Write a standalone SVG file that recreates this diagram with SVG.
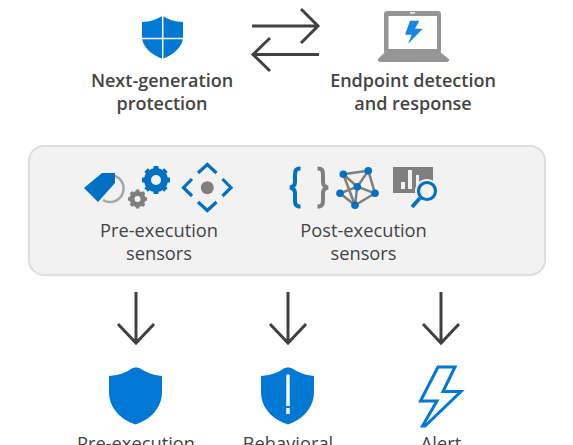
<svg xmlns="http://www.w3.org/2000/svg" width="573" height="445" viewBox="0 0 573 445">
<style>
.t{font-family:"Open Sans","Noto Sans","Liberation Sans",sans-serif;font-size:18.300px;fill:#444;text-anchor:middle}
.b{font-weight:600;font-size:18px}
.arr{fill:none;stroke:#404040;stroke-width:3}
.blue{fill:#0078d4}
.dk{fill:#0070c4}
.bl{fill:none;stroke:#0070c4}
.gr{fill:#7f7f7f}
.lap{fill:#959595}
</style>
<rect width="573" height="445" fill="#fff"/>
<g id="connectors">
<path class="arr" d="M252 26H318M301 9L318 26L301 43"/>
<path class="arr" d="M319 54.500H254M270 38L253 54.500L270 71"/>
<path class="arr" d="M136 292V343M118 324L136 343L154 324"/>
<path class="arr" d="M288 292V343M270 324L288 343L306 324"/>
<path class="arr" d="M441 292V343M423 324L441 343L459 324"/>
</g>
<g id="ngp">
<path class="blue" d="M142 22C150 22 157 19 162.500 16C168 19 175 22 183 22V37C183 47 173 55 162.500 59C152 55 142 47 142 37Z"/>
<path d="M162.700 15V60M141 38.500H184" stroke="#fff" stroke-width="1.500" fill="none"/>
<text class="t b" x="162" y="87">Next-generation</text>
<text class="t b" x="162" y="110">protection</text>
</g>
<g id="edr">
<rect x="384" y="11" width="57" height="43" rx="3" class="lap"/>
<rect x="388.500" y="16" width="48.500" height="33" fill="#fff"/>
<rect x="410" y="12.200" width="5" height="1.300" fill="#fff"/>
<path d="M385 52H440L449 59V60.500L447.500 62H379.500L378 60.500V59Z" class="lap"/>
<path fill="#1a86e0" d="M410 20.700H419.300L415 28.700H422.700L408 44L411.700 34.700H405Z"/>
<text class="t b" x="413" y="87">Endpoint detection</text>
<text class="t b" x="413" y="110">and response</text>
</g>
<g id="sensors">
<rect x="29" y="146" width="516" height="129" rx="15" fill="#f2f2f2" stroke="#ddd" stroke-width="2"/>
</g>
<g id="pre">
<path d="M110 175A13.500 13.500 0 1 1 103 200" fill="none" stroke="#a6a6a6" stroke-width="2.500"/>
<path class="dk" d="M102 173H115V183L98 202L84 188Z"/>
<g transform="translate(137.500 199)">
<circle r="6" fill="none" stroke="#7f7f7f" stroke-width="4"/>
<path d="M0-9.500V9.500M-9.500 0H9.500M-6.700-6.700L6.700 6.700M-6.700 6.700L6.700-6.700" stroke="#7f7f7f" stroke-width="3.600"/>
<circle r="3" fill="#f2f2f2"/>
</g>
<g transform="translate(156 180)">
<circle r="8.500" fill="none" stroke="#0070c4" stroke-width="7"/>
<path d="M0-14V14M-14 0H14M-9.900-9.900L9.900 9.900M-9.900 9.900L9.900-9.900" stroke="#0070c4" stroke-width="5"/>
<circle r="5" fill="#f2f2f2"/>
</g>
<circle cx="207.300" cy="187.700" r="6.500" class="gr"/>
<path class="bl" stroke-width="3.200" d="M198 173L207.300 164.500L216.500 173M198 202L207.300 210.500L216.500 202M192 179L183.500 187.700L192 196M222.500 179L231 187.700L222.500 196"/>
<text class="t" x="159" y="237">Pre-execution</text>
<text class="t" x="159" y="260">sensors</text>
</g>
<g id="post">
<path fill="none" stroke="#0070c4" stroke-width="4" d="M300.500 168.500C295 168.500 295 171 295 177V182C295 185 293 187 290 187.500C293 188 295 190 295 193V198C295 204 295 206.500 300.500 206.500"/>
<path fill="none" stroke="#7f7f7f" stroke-width="4" d="M317.500 168.500C323 168.500 323 171 323 177V182C323 185 325 187 328 187.500C325 188 323 190 323 193V198C323 204 323 206.500 317.500 206.500"/>
<path fill="none" stroke="#7f7f7f" stroke-width="2.500" d="M343.300 174.300L368.300 170.700L375 193.300L355 205.300L340 193.300L357.300 186.700L368.300 170.700M357.300 186.700L375 193.300M357.300 186.700L355 205.300M343.300 174.300L357.300 186.700M343.300 174.300L355 205.300"/>
<g class="dk">
<circle cx="343.300" cy="174.300" r="3.800"/><circle cx="368.300" cy="170.700" r="3.800"/><circle cx="357.300" cy="186.700" r="3.800"/><circle cx="340" cy="193.300" r="3.800"/><circle cx="375" cy="193.300" r="3.800"/><circle cx="355" cy="205.300" r="3.800"/>
</g>
<path class="gr" d="M393 167H433V193H393Z"/>
<path d="M401 189V182H405V189ZM408 189V170H412V189ZM416 189V175H419V189Z" fill="#f2f2f2"/>
<circle cx="427" cy="191" r="12" fill="#f2f2f2"/>
<circle cx="427" cy="191" r="8.500" fill="#f2f2f2" stroke="#0070c4" stroke-width="3.200"/>
<path d="M420 198L412 207" stroke="#0070c4" stroke-width="3.800" fill="none"/>
<text class="t" x="363.500" y="237">Post-execution</text>
<text class="t" x="363.500" y="260">sensors</text>
</g>
<g id="pre-exec">
<path class="blue" d="M109 376C120 375 127 372 131 369C134 367 138 367 141 369C146 372 152 375 162 376V392C162 409 149 420 135.500 424.500C122 420 109 409 109 392Z"/>
<text class="t" x="136" y="450">Pre-execution</text>
</g>
<g id="behavioral">
<path class="blue" d="M261 376C272 375 279 372 283 369C286 367 290 367 293 369C298 372 304 375 314 376V392C314 409 301 420 288 424.500C274 420 261 409 261 392Z"/>
<path d="M286.300 374.500H289.700V406H286.300ZM286.300 408H289.700V414H286.300Z" fill="#fff"/>
<text class="t" x="288" y="450">Behavioral</text>
</g>
<g id="alert">
<path fill="none" stroke="#0078d4" stroke-width="3" d="M438 367H455L443 391.500H461L425 426H422.500L437 401H420.500Z"/>
<text class="t" x="441" y="450">Alert</text>
</g>
</svg>
